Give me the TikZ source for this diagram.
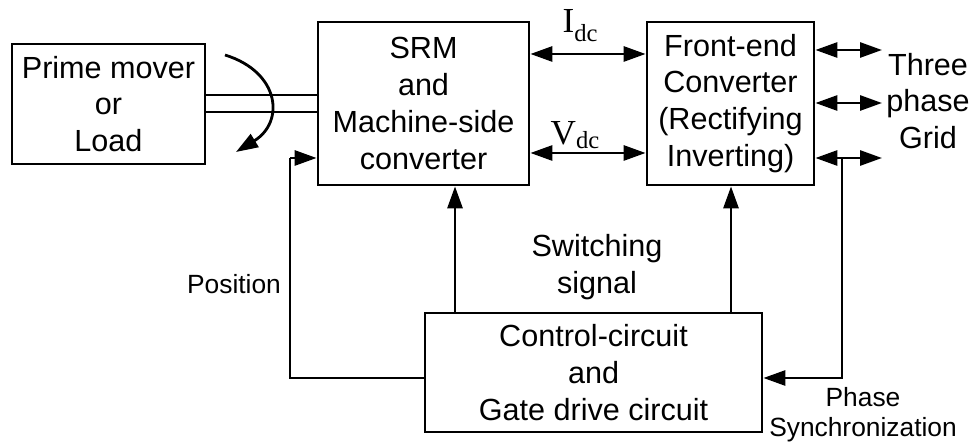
\documentclass[tikz,border=0pt]{standalone}
\usepackage{fontspec}
\setmainfont{Liberation Sans}
\newfontfamily\serifrm{Liberation Serif}
\usetikzlibrary{arrows.meta,calc}

\tikzset{
  block/.style={draw, line width=1.6pt, align=center, inner sep=0pt,
    font=\fontsize{17.4}{21}\selectfont},
  wire/.style={line width=1.6pt},
  flow/.style={wire, -{Triangle[length=4.4mm,width=3mm]}},
  both/.style={wire, {Triangle[length=4.4mm,width=3mm]}-{Triangle[length=4.4mm,width=3mm]}},
  txt/.style={align=center, font=\fontsize{17.4}{21}\selectfont},
  small/.style={align=center, font=\fontsize{15}{17}\selectfont},
  dclbl/.style={font=\serifrm\fontsize{20}{24}\selectfont},
}

\begin{document}
\begin{tikzpicture}[x=0.02cm, y=-0.02cm]
\useasboundingbox (0,0) rectangle (976,448);
% Blocks
\node[block, minimum width=3.86cm, minimum height=2.4cm] (prime) at (108.5,104) {Prime mover\\or\\Load};
\node[block, minimum width=4.22cm, minimum height=3.26cm] (srm) at (423.5,103.5) {SRM\\and\\Machine-side\\converter};
\node[block, minimum width=3.34cm, minimum height=3.26cm] (front) at (730.5,103.5) {Front-end\\Converter\\(Rectifying\\Inverting)};
\node[block, minimum width=6.74cm, minimum height=2.38cm] (ctrl) at (593.5,372.5) {Control-circuit\\and\\Gate drive circuit};
% Shaft and rotation
\draw[wire] (prime.east |- 0,95) -- (srm.west |- 0,95);
\draw[wire] (prime.east |- 0,112) -- (srm.west |- 0,112);
\draw[flow] (225,55) .. controls (280,72) and (285,122) .. (236,152);
% DC link
\draw[both] (srm.east |- 0,54) -- (front.west |- 0,54);
\draw[both] (srm.east |- 0,153) -- (front.west |- 0,153);
\node[dclbl] (idc) at (580,26) {I\raisebox{-5pt}{\fontsize{14}{16}\selectfont dc}};
\node[dclbl] (vdc) at (575,135) {V\raisebox{-2pt}{\fontsize{14}{16}\selectfont dc}};
% Grid side
\foreach \yy in {50,103,158} {
  \coordinate (g\yy) at (882,\yy);
  \draw[both] (front.east |- g\yy) -- (g\yy);
}
\node[txt] (grid) at (928,101) {Three\\phase\\Grid};
% Phase synchronization
\coordinate (tap) at (842,158);
\draw[flow] (tap) |- (ctrl.east |- 0,378);
\node[small] (sync) at (863,415) {Phase\\Synchronization};
% Switching signals
\draw[flow] (ctrl.north -| 455,0) -- (srm.south -| 455,0);
\draw[flow] (ctrl.north -| 731,0) -- (front.south -| 731,0);
\node[txt] (sw) at (597,267) {Switching\\signal};
% Position feedback
\coordinate (turn) at (290,158);
\draw[wire] (ctrl.west |- 0,378) -| (turn);
\draw[flow] (turn) -- (srm.west |- turn);
\node[small] (pos) at (234,284) {Position};
\end{tikzpicture}
\end{document}
